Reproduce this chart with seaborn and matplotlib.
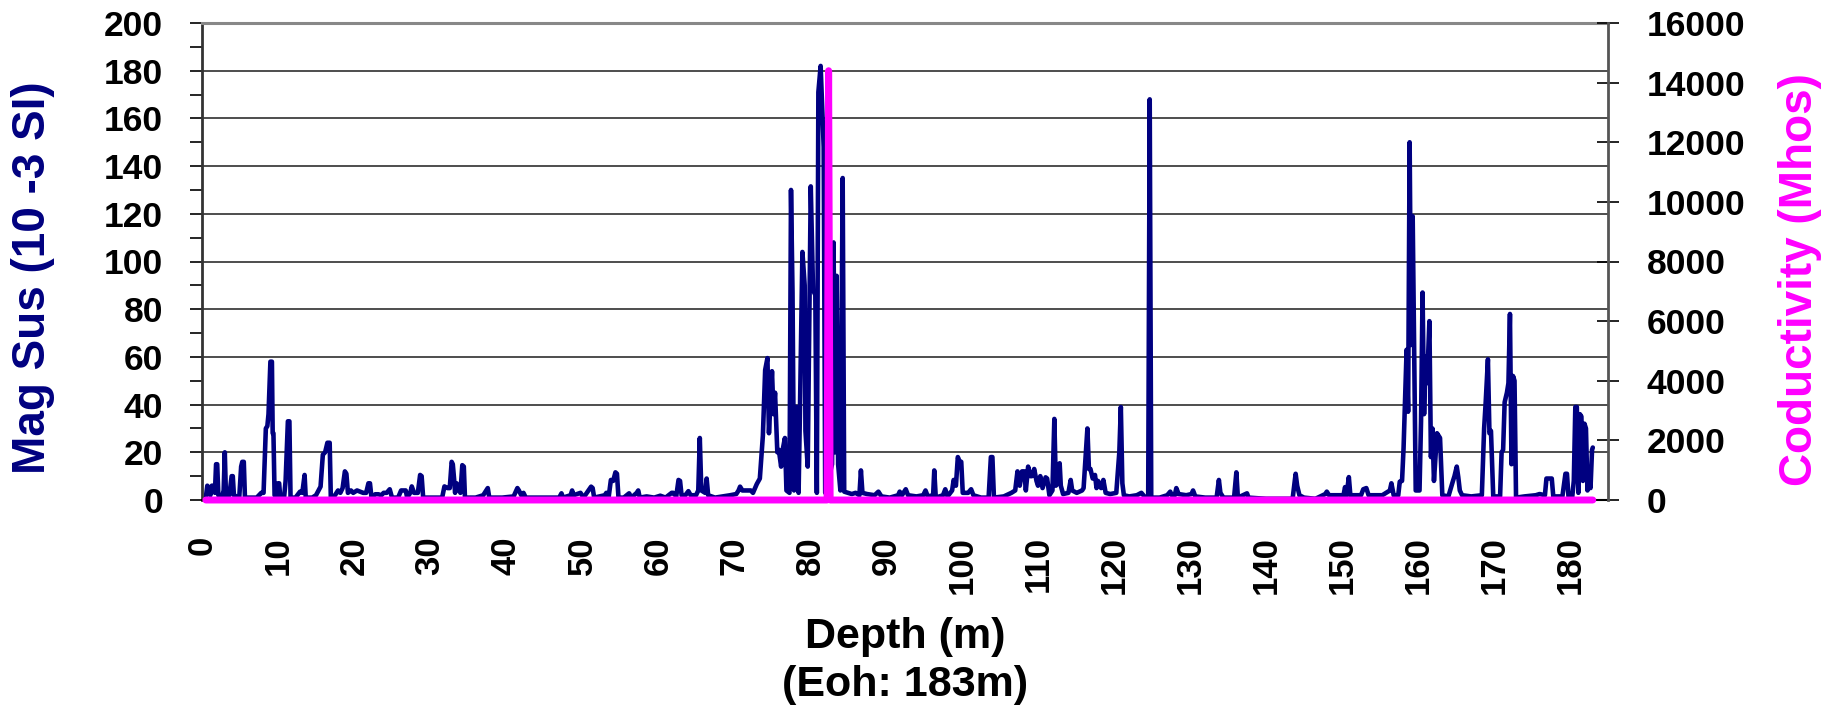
import matplotlib
matplotlib.use("Agg")
import matplotlib.pyplot as plt
from matplotlib.ticker import MultipleLocator
import pandas as pd
import seaborn as sns

# Magnetic susceptibility log (depth in m, value in 10^-3 SI)
depth = [
    0.5, 0.7, 0.9, 1.1, 1.3, 1.5, 1.7, 1.85, 2.0, 2.15,
    2.6, 2.85, 3.0, 3.15, 3.6, 3.9, 4.05, 4.2, 4.9, 5.15,
    5.3, 5.5, 5.65, 6.5, 7.2, 7.8, 8.1, 8.4, 8.6, 8.75,
    9.0, 9.2, 9.3, 9.4, 9.55, 9.85, 10.0, 10.15, 10.3, 10.8,
    11.0, 11.3, 11.5, 11.65, 12.3, 12.9, 13.2, 13.5, 13.65, 14.5,
    15.0, 15.6, 15.9, 16.2, 16.5, 16.8, 16.95, 17.5, 17.9, 18.2,
    18.5, 18.8, 19.0, 19.2, 19.6, 19.9, 20.4, 20.8, 21.2, 21.6,
    21.9, 22.1, 22.3, 22.8, 23.2, 23.6, 23.9, 24.3, 24.7, 25.0,
    25.8, 26.2, 26.5, 26.8, 27.0, 27.4, 27.6, 27.9, 28.4, 28.7,
    28.9, 29.1, 31.6, 31.9, 32.3, 32.6, 32.85, 33.0, 33.2, 33.3,
    33.5, 33.8, 34.0, 34.25, 34.45, 34.6, 36.0, 37.0, 37.4, 37.6,
    37.8, 39.5, 41.0, 41.5, 41.7, 42.0, 42.3, 42.6, 45.0, 47.0,
    47.3, 47.5, 48.5, 48.7, 48.9, 49.8, 50.2, 51.2, 51.4, 51.6,
    53.0, 53.2, 53.5, 53.8, 54.1, 54.4, 54.6, 54.8, 55.5, 56.2,
    56.5, 57.2, 57.4, 57.6, 58.5, 59.5, 60.3, 61.0, 61.8, 62.0,
    62.4, 62.7, 62.9, 63.1, 63.6, 64.0, 64.3, 65.0, 65.3, 65.5,
    65.7, 66.2, 66.4, 66.6, 67.5, 68.5, 69.5, 70.3, 70.6, 70.8,
    71.1, 71.7, 72.2, 72.5, 73.0, 73.4, 73.8, 74.1, 74.4, 74.6,
    75.0, 75.2, 75.4, 75.7, 75.9, 76.2, 76.4, 76.7, 76.9, 77.3,
    77.5, 77.7, 77.9, 78.2, 78.5, 78.7, 79.0, 79.3, 79.4, 79.7,
    80.1, 80.4, 80.7, 80.9, 81.1, 81.4, 81.8, 82.0, 82.9, 83.1,
    83.3, 83.5, 83.7, 84.0, 84.3, 84.5, 85.0, 85.5, 86.0, 86.5,
    86.7, 86.9, 87.5, 88.5, 89.0, 89.4, 90.5, 91.6, 91.8, 92.1,
    92.6, 92.9, 94.0, 94.9, 95.2, 95.5, 96.2, 96.35, 96.55, 97.5,
    97.8, 98.1, 98.7, 98.9, 99.2, 99.45, 99.7, 99.9, 100.1, 100.8,
    101.2, 101.5, 102.5, 103.5, 103.8, 104.0, 104.2, 105.5, 106.5, 107.0,
    107.3, 107.6, 107.9, 108.2, 108.4, 108.7, 109.0, 109.2, 109.5, 109.8,
    110.0, 110.3, 110.6, 111.0, 111.2, 111.5, 111.9, 112.15, 112.35, 112.6,
    112.85, 113.0, 113.3, 114.0, 114.3, 114.5, 115.1, 115.8, 116.0, 116.5,
    116.7, 116.9, 117.2, 117.5, 117.7, 117.9, 118.3, 118.6, 118.9, 119.5,
    120.3, 120.7, 120.9, 121.1, 121.3, 122.0, 123.0, 123.6, 124.0, 124.5,
    124.7, 124.9, 126.0, 127.0, 127.4, 127.6, 128.0, 128.2, 128.5, 129.5,
    130.2, 130.4, 130.7, 132.0, 133.5, 133.8, 134.0, 134.4, 135.8, 136.1,
    136.3, 137.5, 137.7, 140.0, 143.5, 143.9, 144.1, 144.4, 145.0, 146.5,
    147.8, 148.0, 148.3, 149.5, 150.2, 150.4, 150.6, 150.9, 151.1, 152.5,
    152.8, 153.2, 153.5, 154.5, 155.3, 156.3, 156.5, 156.8, 157.4, 157.6,
    157.9, 158.1, 158.3, 158.5, 158.7, 158.9, 159.1, 159.3, 159.5, 159.7,
    160.2, 160.4, 160.6, 160.8, 161.0, 161.2, 161.5, 161.7, 161.9, 162.1,
    162.5, 162.9, 163.2, 164.0, 164.6, 164.8, 165.1, 165.3, 165.5, 165.8,
    167.0, 168.4, 168.7, 168.9, 169.2, 169.4, 169.6, 169.9, 170.8, 171.0,
    171.2, 171.4, 171.7, 171.9, 172.1, 172.3, 172.5, 172.7, 172.9, 174.0,
    175.5, 176.0, 176.7, 176.9, 177.2, 177.6, 177.8, 179.0, 179.4, 179.6,
    179.8, 180.3, 180.5, 180.7, 180.9, 181.1, 181.3, 181.5, 181.7, 181.9,
    182.1, 182.3, 182.5, 182.7, 182.9, 183.0,
]
mag_sus = [
    1, 6, 5, 2, 6, 6, 3, 15, 15, 2,
    1, 4, 20, 2, 2, 10, 10, 2, 1, 14,
    16, 16, 1, 1, 1, 3, 3, 30, 31, 36,
    58, 58, 28, 28, 2, 2, 7, 7, 1, 1,
    8, 33, 33, 1, 1, 3.5, 3, 10.5, 1, 1,
    2, 5.6, 19, 20, 24, 24, 1, 2, 4, 3,
    5, 12, 11, 3, 4, 3, 4, 3.5, 3, 3,
    7, 7, 1, 2.4, 2.4, 2, 3, 3, 4.5, 1,
    1, 4, 4, 4, 1, 3, 5.7, 3, 3, 10.5,
    10, 1, 1, 5.7, 5, 5, 16, 15, 7.7, 3,
    7, 4.5, 3, 14.6, 14, 1, 1, 2, 4, 5,
    1, 1, 1.5, 5, 4, 2, 3, 1, 1, 1,
    2.8, 1, 2, 4, 2, 3, 1, 5.6, 5, 1,
    2, 3, 1, 8.4, 8, 11.6, 11, 1, 1, 2.8,
    1, 3, 4, 1, 1.5, 1, 1.8, 1, 3, 3,
    1.5, 8.4, 8, 2, 2, 3.7, 2, 2, 4, 26,
    4, 3, 9, 2, 1, 1.5, 2, 2.5, 4, 5.6,
    4, 4, 4, 3, 6.7, 9, 27, 54.5, 59.5, 28,
    54, 36, 45, 20, 21, 14, 21, 26, 4, 3,
    130, 87, 4, 39, 3, 42, 104, 90, 29, 14,
    131.5, 88, 86, 3, 171, 182, 148, 3, 15, 108,
    20, 94, 15, 4, 135, 3.5, 3, 2.5, 3, 2,
    12.4, 3, 2.5, 2, 3.5, 1.5, 1, 2, 3.5, 2,
    4.5, 2, 1.5, 2, 4, 1.5, 2, 12.4, 1, 2,
    4.5, 1.5, 4, 8.4, 6, 18, 16, 16, 3, 3,
    4.5, 2, 1, 1, 18, 18, 1, 1.5, 3, 4,
    12, 6, 12, 12, 4, 14, 10, 10, 13, 8,
    6, 10, 5, 9.5, 9, 2, 4, 34, 6, 7,
    15.4, 6, 2.5, 3, 8.4, 4, 3, 4, 5, 30,
    13, 13, 9, 10.5, 5, 8, 5, 8.4, 3, 2.5,
    3, 20, 39, 7, 2, 1.5, 2, 3, 1.5, 1,
    168, 1, 1, 2, 3.5, 2, 2, 5, 2.5, 2,
    2.5, 4, 1.5, 1, 1, 8.4, 3, 1, 1, 11.6,
    1, 2.8, 1, 0.5, 0.5, 11, 6, 2, 1, 0.5,
    2.5, 3.5, 2, 2, 2, 5.4, 2, 9.6, 2, 2,
    4.5, 5, 2, 2, 2, 4, 7, 2, 2, 7.7,
    8, 21.7, 43, 63, 37, 150, 65, 119, 61, 4,
    4, 33, 87, 36, 60, 49, 75, 18, 30, 8,
    28, 26, 2, 1.5, 8, 10, 14, 9.6, 4, 2,
    1.5, 2, 30, 40.6, 59, 28, 29, 1.5, 1.5, 20,
    21, 41, 45, 49, 78, 15, 52, 50, 1, 1.5,
    2, 2.5, 2, 9, 9, 9, 1.5, 1.5, 11, 11,
    1.5, 1.5, 8, 39, 39, 3, 36, 35, 8, 32,
    30, 4, 11, 5, 21, 22,
]

# Conductivity log (Mhos): flat apart from one spike
cond_depth = [0.5, 82.25, 82.45, 82.65, 183.0]
conductivity = [0, 0, 14400, 0, 0]

NAVY = "#000080"
MAGENTA = "#FF00FF"

sns.set_style("white")
plt.rcParams['font.family'] = ['Liberation Sans', 'DejaVu Sans']
plt.rcParams['font.weight'] = 'bold'
plt.rcParams['text.color'] = 'black'
plt.rcParams['axes.labelcolor'] = 'black'
plt.rcParams['xtick.color'] = 'black'
plt.rcParams['ytick.color'] = 'black'

mag_df = pd.DataFrame({'depth': depth, 'mag_sus': mag_sus})
cond_df = pd.DataFrame({'depth': cond_depth, 'conductivity': conductivity})

fig = plt.figure(figsize=(18.42, 7.17), dpi=100)
ax = fig.add_axes([202 / 1842, 1 - 500 / 717, 1406 / 1842, 477 / 717])
ax2 = ax.twinx()

sns.lineplot(data=mag_df, x='depth', y='mag_sus', ax=ax, color=NAVY,
             estimator=None, sort=False)
sns.lineplot(data=cond_df, x='depth', y='conductivity', ax=ax2, color=MAGENTA,
             estimator=None, sort=False)

# thick Excel-like strokes, not clipped at the zero line
for line in ax.lines:
    line.set_linewidth(3.3)
    line.set_solid_joinstyle('round')
    line.set_solid_capstyle('round')
    line.set_clip_on(False)
for line in ax2.lines:
    line.set_linewidth(5.0)
    line.set_solid_joinstyle('round')
    line.set_solid_capstyle('round')
    line.set_clip_on(False)

# Axes limits and ticks
ax.set_xlim(0, 185)
ax.set_ylim(0, 200)
ax2.set_ylim(0, 16000)

ax.xaxis.set_major_locator(MultipleLocator(10))
ax.xaxis.set_minor_locator(MultipleLocator(5))
ax.yaxis.set_major_locator(MultipleLocator(20))
ax.yaxis.set_minor_locator(MultipleLocator(10))
ax2.yaxis.set_major_locator(MultipleLocator(2000))

ax.tick_params(axis='x', which='both', direction='out', length=5, width=2,
               color='black', labelcolor='black', pad=21, labelsize=25,
               labelrotation=90)
ax.tick_params(axis='y', which='both', direction='out', length=9, width=1.2,
               color='black', labelcolor='black', pad=19, labelsize=25.5)
ax2.tick_params(axis='y', which='major', direction='inout', length=16, width=1.2,
                color='black', labelcolor='black', pad=20, labelsize=25.5)

# Gridlines
ax.yaxis.grid(True, which='major', color='#4d4d4d', linewidth=1.4)
ax.xaxis.grid(False)

# Frame
for side in ['top', 'right', 'bottom', 'left']:
    ax2.spines[side].set_visible(False)
ax2.spines['right'].set_visible(True)
ax2.spines['right'].set_color('#555555')
ax2.spines['right'].set_linewidth(2)
ax.spines['right'].set_visible(False)
ax.spines['top'].set_color('#888888')
ax.spines['top'].set_linewidth(2.2)
ax.spines['left'].set_color('#333333')
ax.spines['left'].set_linewidth(2)
ax.spines['bottom'].set_color('black')
ax.spines['bottom'].set_linewidth(1.5)

# Axis titles
ax.set_ylabel("Mag Sus (10 -3 SI)", color=NAVY, fontsize=33,
              fontweight='bold', va='center')
ax.yaxis.set_label_coords(-0.120, 0.467)
ax2.set_ylabel("Coductivity (Mhos)", color=MAGENTA, fontsize=33,
               fontweight='bold', rotation=90, va='center')
ax2.yaxis.set_label_coords(1.1366, 0.462)
ax.set_xlabel("Depth (m)\n(Eoh: 183m)", color='black', fontsize=31,
              fontweight='bold', va='center', linespacing=1.25)
ax.xaxis.set_label_coords(0.5, -0.3375)

fig.savefig("out.png", dpi=100)
